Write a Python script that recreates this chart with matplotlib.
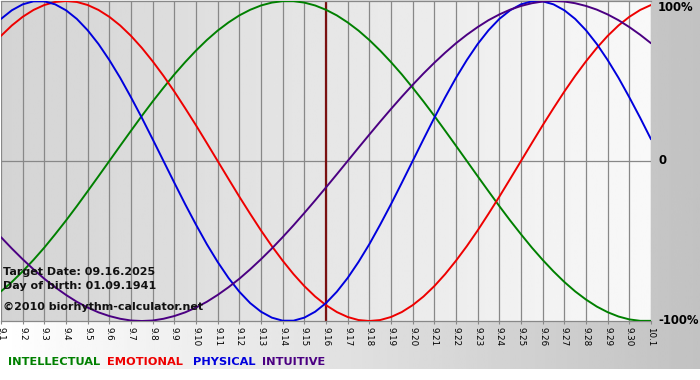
import numpy as np
import matplotlib
matplotlib.use("Agg")
import matplotlib.pyplot as plt

# days shown: Sept 1 .. Oct 1
day_labels = ["9.%d" % d for d in range(1, 31)] + ["10.1"]

# values, every half day from 9.1 to 10.1 (-1..1)
intellectual = [-0.815, -0.756, -0.690, -0.618, -0.541, -0.458, -0.372, -0.282, -0.189, -0.095,
                0.0, 0.095, 0.189, 0.282, 0.372, 0.458, 0.541, 0.618, 0.690, 0.756,
                0.815, 0.866, 0.910, 0.945, 0.972, 0.990, 0.999, 0.999, 0.990, 0.972,
                0.945, 0.910, 0.866, 0.815, 0.756, 0.690, 0.618, 0.541, 0.458, 0.372,
                0.282, 0.189, 0.095, 0.0, -0.095, -0.189, -0.282, -0.372, -0.458, -0.541,
                -0.618, -0.690, -0.756, -0.815, -0.866, -0.910, -0.945, -0.972, -0.990, -0.999,
                -0.999]
emotional = [0.782, 0.847, 0.901, 0.944, 0.975, 0.994, 1.0, 0.994, 0.975, 0.944,
             0.901, 0.847, 0.782, 0.707, 0.623, 0.532, 0.434, 0.330, 0.223, 0.112,
             0.0, -0.112, -0.223, -0.330, -0.434, -0.532, -0.623, -0.707, -0.782, -0.847,
             -0.901, -0.944, -0.975, -0.994, -1.0, -0.994, -0.975, -0.944, -0.901, -0.847,
             -0.782, -0.707, -0.623, -0.532, -0.434, -0.330, -0.223, -0.112, 0.0, 0.112,
             0.223, 0.330, 0.434, 0.532, 0.623, 0.707, 0.782, 0.847, 0.901, 0.944,
             0.975]
physical = [0.888, 0.942, 0.979, 0.998, 0.998, 0.979, 0.942, 0.888, 0.817, 0.731,
            0.631, 0.520, 0.398, 0.270, 0.136, 0.0, -0.136, -0.270, -0.398, -0.520,
            -0.631, -0.731, -0.817, -0.888, -0.942, -0.979, -0.998, -0.998, -0.979, -0.942,
            -0.888, -0.817, -0.731, -0.631, -0.520, -0.398, -0.270, -0.136, 0.0, 0.136,
            0.270, 0.398, 0.520, 0.631, 0.731, 0.817, 0.888, 0.942, 0.979, 0.998,
            0.998, 0.979, 0.942, 0.888, 0.817, 0.731, 0.631, 0.520, 0.398, 0.270,
            0.136]
intuitive = [-0.476, -0.547, -0.614, -0.677, -0.736, -0.789, -0.837, -0.880, -0.916, -0.946,
             -0.969, -0.986, -0.997, -1.0, -0.997, -0.986, -0.969, -0.946, -0.916, -0.880,
             -0.837, -0.789, -0.736, -0.677, -0.614, -0.547, -0.476, -0.402, -0.325, -0.246,
             -0.165, -0.083, 0.0, 0.083, 0.165, 0.246, 0.325, 0.402, 0.476, 0.547,
             0.614, 0.677, 0.736, 0.789, 0.837, 0.880, 0.916, 0.946, 0.969, 0.986,
             0.997, 1.0, 0.997, 0.986, 0.969, 0.946, 0.916, 0.880, 0.837, 0.789,
             0.736]

target_index = 15  # 9.16
info_lines = ["Target Date: 09.16.2025", "Day of birth: 01.09.1941",
              "\u00a92010 biorhythm-calculator.net"]
legend_names = ["INTELLECTUAL", "EMOTIONAL", "PHYSICAL", "INTUITIVE"]
colors = ["#008000", "#ee0000", "#0000dd", "#4b0082"]

W, H = 700, 380
fig = plt.figure(figsize=(W / 100, H / 100), dpi=100)
fig.patch.set_facecolor("white")

# background: white -> gray, leaving a white strip at bottom
bg = fig.add_axes([0, 11 / H, 1, 1 - 11 / H])
bg.set_axis_off()
grad = np.linspace(1.0, 0.76, 256)[None, :]
bg.imshow(grad, aspect="auto", cmap="gray", vmin=0, vmax=1,
          extent=[0, 1, 0, 1])
bg.set_xlim(0, 1)
bg.set_ylim(0, 1)

n_days = len(day_labels)
x = np.arange(n_days)
xs = np.linspace(0, n_days - 1, len(physical))  # half-day sample positions

ax = fig.add_axes([1 / W, (H - 321) / H, 650 / W, 320 / H])
ax.set_xlim(0, n_days - 1)
ax.set_ylim(-1, 1)

# plot area gradient: darker left, lighter right
pgrad = np.linspace(0.83, 0.975, 256)[None, :]
ax.imshow(pgrad, aspect="auto", cmap="gray", vmin=0, vmax=1,
          extent=[0, n_days - 1, -1, 1], zorder=0)

for xi in x:
    ax.axvline(xi, color="#888888", lw=0.9, zorder=1)
ax.axhline(0, color="#888888", lw=0.9, zorder=1)
ax.axvline(target_index, color="#7a1010", lw=1.6, zorder=2)

for vals, c in zip([intellectual, emotional, physical, intuitive], colors):
    ax.plot(xs, vals, color=c, lw=1.4, zorder=3, solid_capstyle="round")

for s in ["left", "right"]:
    ax.spines[s].set_visible(False)
for s in ["top", "bottom"]:
    ax.spines[s].set_color("#888888")
    ax.spines[s].set_linewidth(0.9)

ax.set_xticks(x)
ax.set_xticklabels(day_labels, rotation=270, fontsize=6.3)
ax.tick_params(axis="x", length=2, color="#888888", pad=2)
ax.set_yticks([])

ytr = ax.get_yaxis_transform()
ax.text(1.011, 1.0, "100%", transform=ytr, ha="left", va="top",
        fontsize=8.4, fontweight="bold")
ax.text(1.011, 0.0, "0", transform=ytr, ha="left", va="center",
        fontsize=8.4, fontweight="bold")
ax.text(1.011, -1.0, "-100%", transform=ytr, ha="left", va="center",
        fontsize=8.4, fontweight="bold")

for line, ypix in zip(info_lines, [272, 286, 307]):
    fig.text(3 / W, 1 - ypix / H, line, ha="left", va="center",
             fontsize=8.0, fontweight="bold", color="#111111", zorder=5)

for name, c, xpix in zip(legend_names, colors, [8, 107, 193, 262]):
    fig.text(xpix / W, 1 - 362 / H, name, ha="left", va="center",
             fontsize=8.2, fontweight="bold", color=c)

fig.savefig("out.png", dpi=100)
